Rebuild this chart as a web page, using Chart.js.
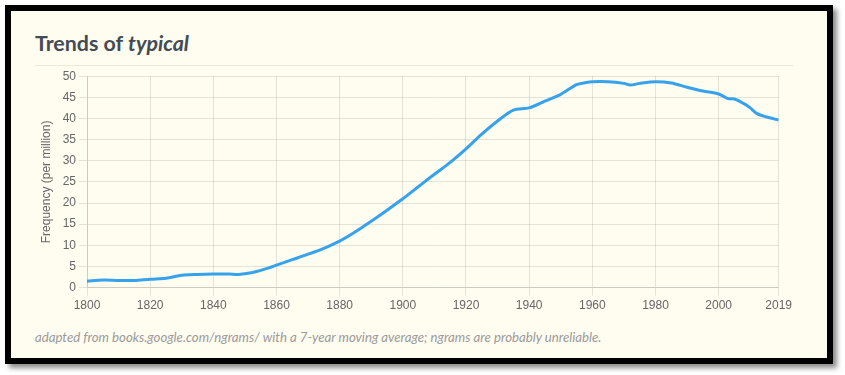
<!DOCTYPE html>
<html>
<head>
<meta charset="utf-8">
<script src="https://cdn.jsdelivr.net/npm/chart.js@4.4.1/dist/chart.umd.min.js"></script>
<style>
  html, body { margin: 0; padding: 0; background: #ffffff; width: 845px; height: 375px; overflow: hidden; }
  #frame {
    position: absolute; left: 5px; top: 5px; width: 816px; height: 347px;
    border: 6px solid #000; background: #fffcf0;
    box-shadow: 4px 4px 5px rgba(0,0,0,0.45);
  }
  #title {
    position: absolute; left: 24px; top: 22px; margin: 0;
    font-family: Lato, sans-serif; font-weight: 700; font-size: 21.4px; color: #434b54;
    line-height: 1;
  }
  #rule { position: absolute; left: 24px; top: 54px; width: 758px; height: 1px; background: #ebe8dc; }
  #wrap { position: absolute; left: 24px; top: 55px; width: 760px; height: 250px; }
  #foot {
    position: absolute; left: 24px; top: 318px; margin: 0;
    font-family: Lato, sans-serif; font-style: italic; font-size: 13.2px; color: #9a9a9a;
  }
</style>
</head>
<body>
<div id="frame">
  <div id="title">Trends of <i>typical</i></div>
  <div id="rule"></div>
  <div id="wrap"><canvas id="c"></canvas></div>
  <div id="foot">adapted from books.google.com/ngrams/ with a 7-year moving average; ngrams are probably unreliable.</div>
</div>
<script>
const years = [1800,1805,1810,1815,1820,1825,1830,1835,1840,1845,1848,1852,1856,1860,1865,1870,1875,1880,1885,1890,1895,1900,1905,1910,1915,1920,1925,1930,1935,1940,1945,1950,1955,1958,1960,1965,1970,1972,1975,1980,1985,1990,1995,2000,2003,2005,2008,2010,2012,2015,2019];
const frequency = [1.5,1.8,1.7,1.7,2.0,2.2,2.9,3.1,3.2,3.2,3.1,3.5,4.3,5.3,6.6,7.9,9.3,11.0,13.2,15.7,18.3,21.0,23.9,26.8,29.6,32.8,36.3,39.4,42.0,42.5,44.1,45.7,48.0,48.5,48.7,48.7,48.3,47.9,48.3,48.7,48.4,47.4,46.5,45.8,44.7,44.6,43.5,42.5,41.2,40.4,39.6];
const xTicks = [1800,1820,1840,1860,1880,1900,1920,1940,1960,1980,2000,2019];
const yTicks = [0,5,10,15,20,25,30,35,40,45,50];

const points = years.map((y, i) => ({ x: y, y: frequency[i] }));
const tickFont = { family: 'Arial, "Liberation Sans", sans-serif', size: 12 };

new Chart(document.getElementById('c'), {
  type: 'line',
  data: { datasets: [{
    data: points,
    borderColor: 'rgb(54,162,235)',
    borderWidth: 3,
    pointRadius: 0,
    fill: false,
    tension: 0.3
  }]},
  options: {
    responsive: true,
    maintainAspectRatio: false,
    animation: false,
    layout: { padding: { top: 8, right: 4, left: 0, bottom: 0 } },
    plugins: { legend: { display: false }, tooltip: { enabled: false } },
    scales: {
      x: {
        type: 'linear', min: 1800, max: 2019,
        afterBuildTicks: s => { s.ticks = xTicks.map(v => ({ value: v })); },
        ticks: { color: '#666', font: tickFont, maxRotation: 0, autoSkip: false, callback: v => String(v) },
        grid: { color: 'rgba(0,0,0,0.1)', tickLength: 8 },
        border: { color: 'rgba(0,0,0,0.1)' }
      },
      y: {
        min: 0, max: 50,
        afterBuildTicks: s => { s.ticks = yTicks.map(v => ({ value: v })); },
        afterFit: s => { s.width = 52; },
        ticks: { color: '#666', font: tickFont, padding: 3 },
        grid: { color: 'rgba(0,0,0,0.1)', tickLength: 8 },
        border: { color: 'rgba(0,0,0,0.1)' },
        title: { display: true, text: 'Frequency (per million)', color: '#666', font: tickFont, padding: { top: 4, bottom: 4 } }
      }
    }
  }
});
</script>
</body>
</html>
